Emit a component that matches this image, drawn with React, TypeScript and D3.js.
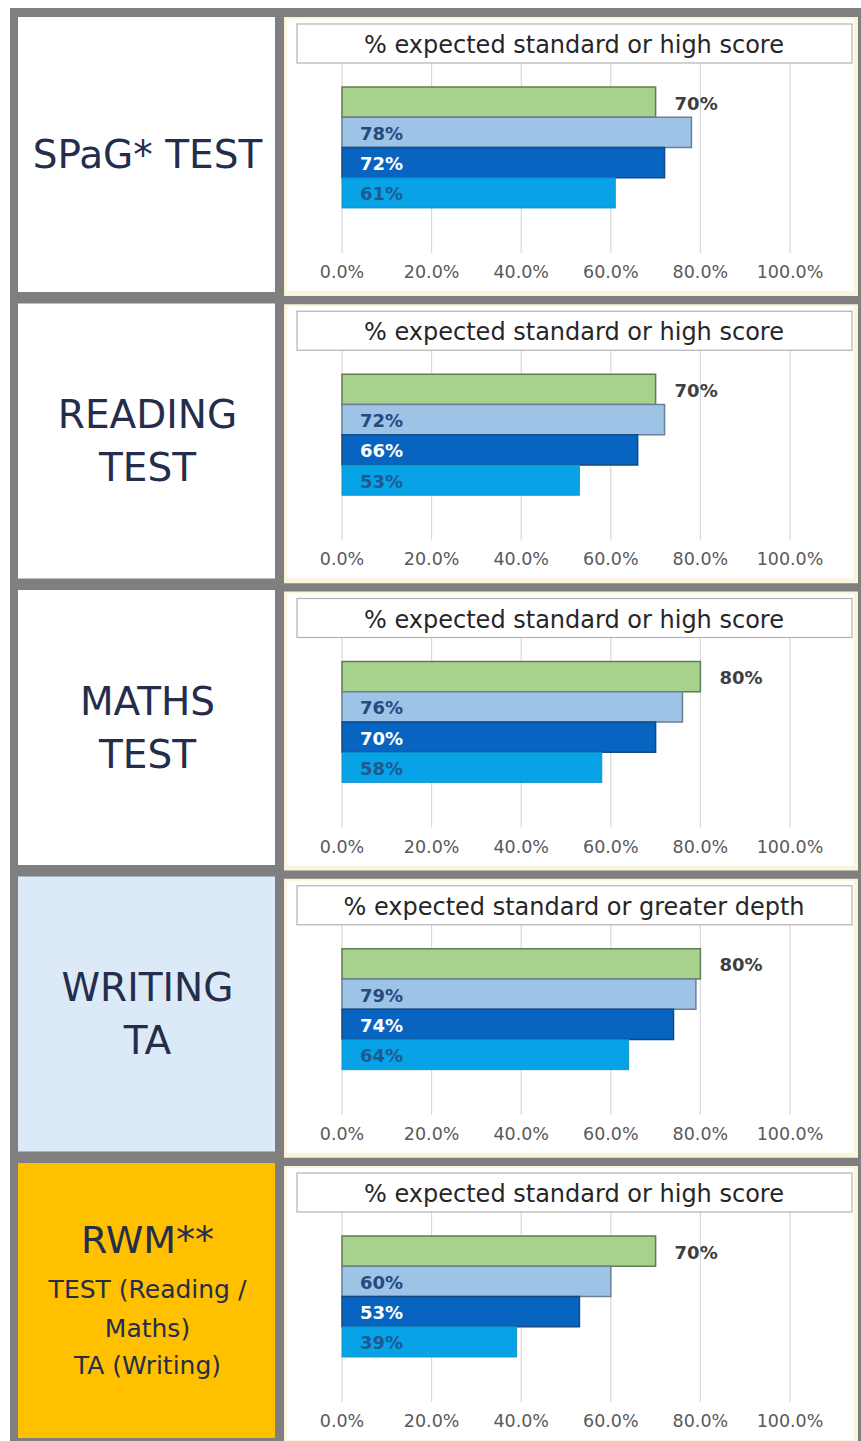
import React from 'react';
import * as d3 from 'd3';

// ---- data ----
const categories = ['SPaG', 'READING', 'MATHS', 'WRITING', 'RWM'];
const categoryLines = [
  ['SPaG* TEST'],
  ['READING', 'TEST'],
  ['MATHS', 'TEST'],
  ['WRITING', 'TA'],
  ['RWM**', 'TEST (Reading /', 'Maths)', 'TA (Writing)'],
];
const chartTitles = [
  '% expected standard or high score',
  '% expected standard or high score',
  '% expected standard or high score',
  '% expected standard or greater depth',
  '% expected standard or high score',
];
const seriesNames = ['target', 'seriesA', 'seriesB', 'seriesC'];
const targetValues = [70, 70, 80, 80, 70];
const seriesAValues = [78, 72, 76, 79, 60];
const seriesBValues = [72, 66, 70, 74, 53];
const seriesCValues = [61, 53, 58, 64, 39];
const tickValues = [0, 20, 40, 60, 80, 100];

// ---- styles ----
const FONT = '"DejaVu Sans", Verdana, Tahoma, sans-serif';
const cellFills = ['#ffffff', '#ffffff', '#ffffff', '#dce9f6', '#ffc000'];
const barFills = ['#a9d18e', '#9dc3e6', '#0764c0', '#08a3e6'];
const barStrokes = ['#5f7d52', '#6d7f95', '#134b85', '#0a8cc6'];
const labelColors = ['#3f3f3f', '#254b7e', '#ffffff', '#1d5a93'];

export default function App() {
  const W = 861;
  const H = 1441;
  const leftX = 18;
  const leftW = 257;
  const panelX = 284;
  const panelW = 574;

  const cellBand = d3.scaleBand<string>().domain(categories).range([17, 17 + 5 * 286.5]);
  const panelBand = d3.scaleBand<string>().domain(categories).range([17, 17 + 5 * 287.25]);
  const x = d3.scaleLinear().domain([0, 100]).range([342, 790]);
  const barBand = d3.scaleBand<string>().domain(seriesNames).range([70, 191]).padding(0);

  const seriesValues = [targetValues, seriesAValues, seriesBValues, seriesCValues];

  return (
    <svg
      width={W}
      height={H}
      style={{ position: 'absolute', left: 0, top: 0, background: '#ffffff' }}
      fontFamily={FONT}
    >
      <rect x={10} y={8} width={W - 10} height={H - 8} fill="#7f7f7f" />
      {categories.map((c, i) => {
        const cy = cellBand(c)!;
        const lines = categoryLines[i];
        const cellCenter = cy + 137.5;
        const multi = lines.length > 2;
        return (
          <g key={'cell' + c}>
            <rect x={leftX} y={cy} width={leftW} height={275} fill={cellFills[i]} />
            {lines.map((ln, j) => {
              let yy: number;
              let fs: number;
              if (!multi) {
                yy = lines.length === 1 ? cellCenter : cellCenter + (j - 0.5) * 53;
                fs = 39;
              } else {
                const offs = [-61, -11, 28, 65];
                yy = cellCenter + offs[j];
                fs = j === 0 ? 38 : 25;
              }
              return (
                <text
                  key={j}
                  x={leftX + leftW / 2 + 1}
                  y={yy}
                  textAnchor="middle"
                  dominantBaseline="central"
                  fontSize={fs}
                  fill="#252d4c"
                >
                  {ln}
                </text>
              );
            })}
          </g>
        );
      })}
      {categories.map((c, i) => {
        const top = panelBand(c)!;
        return (
          <g key={'panel' + c}>
            <rect x={panelX} y={top} width={panelW} height={279} fill="#fbf4dd" />
            <rect x={panelX + 3} y={top + 2} width={panelW - 7} height={272} fill="#ffffff" />
            {tickValues.map((t) => (
              <line
                key={'g' + t}
                x1={x(t)}
                x2={x(t)}
                y1={top + 46}
                y2={top + 236}
                stroke="#d9d9d9"
                strokeWidth={1.2}
              />
            ))}
            <rect
              x={297}
              y={top + 7}
              width={555}
              height={39}
              fill="#ffffff"
              stroke="#b3b3b3"
              strokeWidth={1.2}
            />
            <text
              x={574}
              y={top + 28}
              textAnchor="middle"
              dominantBaseline="central"
              fontSize={24}
              fill="#262626"
            >
              {chartTitles[i]}
            </text>
            {seriesNames.map((s, k) => {
              const v = seriesValues[k][i];
              const by = top + barBand(s)!;
              const bh = barBand.bandwidth();
              return (
                <g key={s}>
                  <rect
                    x={x(0)}
                    y={by}
                    width={x(v) - x(0)}
                    height={bh}
                    fill={barFills[k]}
                    stroke={barStrokes[k]}
                    strokeWidth={k === 3 ? 0.8 : 1.5}
                  />
                  <text
                    x={k === 0 ? x(v) + 19 : x(0) + 18}
                    y={by + bh / 2 + 1}
                    dominantBaseline="central"
                    fontSize={18}
                    fontWeight="bold"
                    fill={labelColors[k]}
                  >
                    {v + '%'}
                  </text>
                </g>
              );
            })}
            {tickValues.map((t) => (
              <text
                key={'t' + t}
                x={x(t)}
                y={top + 255}
                textAnchor="middle"
                dominantBaseline="central"
                fontSize={17.5}
                fill="#595959"
              >
                {d3.format('.1f')(t) + '%'}
              </text>
            ))}
          </g>
        );
      })}
    </svg>
  );
}
